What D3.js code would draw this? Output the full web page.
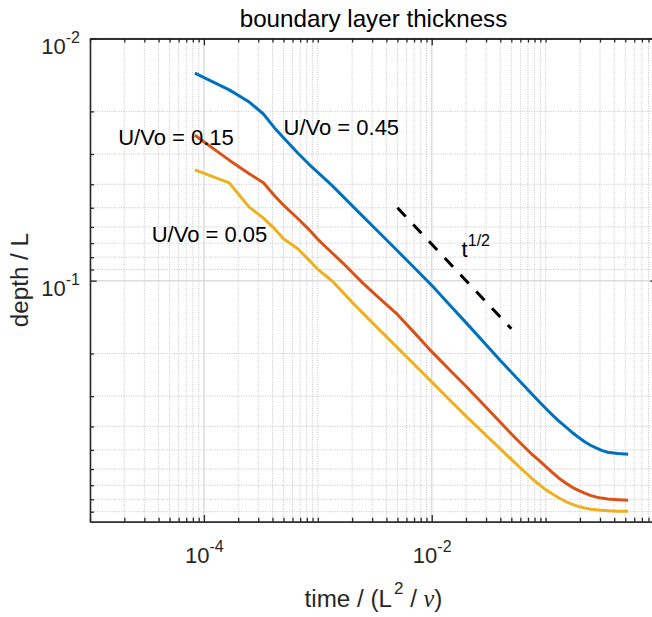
<!DOCTYPE html>
<html>
<head>
<meta charset="utf-8">
<script src="https://cdn.jsdelivr.net/npm/d3@7"></script>
<style>
  body { margin: 0; background: #fff; }
  svg { display: block; font-family: "Liberation Sans", Arial, Helvetica, sans-serif; }
  text { white-space: pre; }
</style>
</head>
<body>
<div id="chart"></div>
<script>
// time / (L^2/nu), shared by the three runs
var times = [8.33e-5, 1.67e-4, 2.5e-4, 3.33e-4, 4.17e-4, 5e-4, 6.67e-4, 8.33e-4, 1e-3, 1.33e-3,
  1.67e-3, 2e-3, 2.5e-3, 3.33e-3, 5e-3, 7e-3, 1e-2, 1.5e-2, 2e-2, 3e-2,
  4e-2, 5.5e-2, 7.5e-2, 0.085, 0.1, 0.115, 0.13, 0.15, 0.17, 0.19,
  0.22, 0.25, 0.28, 0.31, 0.35, 0.43, 0.53];

// depth / L
var depth045 = [0.0139, 0.0163, 0.0183, 0.0205, 0.0234, 0.0257, 0.0297, 0.0330, 0.0357, 0.0404,
  0.0450, 0.0490, 0.0544, 0.0622, 0.0753, 0.0883, 0.1046, 0.1287, 0.1491, 0.1840,
  0.2137, 0.2506, 0.2925, 0.3113, 0.3367, 0.3592, 0.3796, 0.4022, 0.4227, 0.4404,
  0.4627, 0.4797, 0.4922, 0.5022, 0.5113, 0.518, 0.5212];
var depth015 = [0.0251, 0.0318, 0.0362, 0.0394, 0.0446, 0.0488, 0.0554, 0.0614, 0.0675, 0.0767,
  0.0848, 0.0924, 0.1026, 0.1162, 0.1379, 0.1636, 0.1965, 0.2384, 0.2729, 0.3334,
  0.3844, 0.4499, 0.519, 0.5464, 0.5853, 0.6203, 0.6529, 0.6846, 0.7125, 0.7311,
  0.7551, 0.7727, 0.7838, 0.791, 0.7975, 0.803, 0.807];
var depth005 = [0.0349, 0.0395, 0.0497, 0.0552, 0.0610, 0.0671, 0.0738, 0.0821, 0.0898, 0.1001,
  0.1121, 0.1229, 0.1365, 0.1563, 0.189, 0.2216, 0.2619, 0.3171, 0.3629, 0.4353,
  0.4951, 0.571, 0.6535, 0.6867, 0.7298, 0.7609, 0.7882, 0.8172, 0.8375, 0.854,
  0.8686, 0.8787, 0.8846, 0.8889, 0.8914, 0.8954, 0.8963];

// reference slope t^(1/2)
var refTimes = [0.005, 0.05];
var refDepths = [0.05, 0.158];

// annotations, anchored in data coordinates
var labelTexts = ['U/Vo = 0.45', 'U/Vo = 0.15', 'U/Vo = 0.05'];
var labelTimes = [5e-4, 1.77e-5, 3.48e-5];
var labelDepths = [0.025, 0.0275, 0.0691];

var xMajor = [1e-4, 1e-2];
var yMajor = [0.01, 0.1];

var colors = ['#0072BD', '#D95319', '#EDB120'];
var series = [depth045, depth015, depth005];

var W = 652, H = 617;
var svg = d3.select('#chart').append('svg')
    .attr('width', W)
    .attr('height', H);

var x = d3.scaleLog().domain([1e-5, 0.95]).range([90, 657]);
var y = d3.scaleLog().domain([0.01, 0.99]).range([38.5, 521.7]);

var x0 = x.range()[0], x1 = x.range()[1];
var y0 = y.range()[0], y1 = y.range()[1];

function isIn(v, list) {
  return list.some(function(m) { return Math.abs(Math.log10(v / m)) < 1e-6; });
}

var xMinor = x.ticks().filter(function(v) { return !isIn(v, xMajor); });
var yMinor = y.ticks().filter(function(v) { return !isIn(v, yMajor); });

// grid
var grid = svg.append('g');

grid.selectAll('line.xminor')
  .data(xMinor)
  .enter().append('line')
  .attr('x1', x).attr('x2', x)
  .attr('y1', y0).attr('y2', y1)
  .attr('stroke', '#c4c4c4')
  .attr('stroke-width', 1)
  .attr('stroke-dasharray', '1,1.4');

grid.selectAll('line.yminor')
  .data(yMinor)
  .enter().append('line')
  .attr('y1', y).attr('y2', y)
  .attr('x1', x0).attr('x2', x1)
  .attr('stroke', '#c4c4c4')
  .attr('stroke-width', 1)
  .attr('stroke-dasharray', '1,1.4');

grid.selectAll('line.xmajor')
  .data(xMajor)
  .enter().append('line')
  .attr('x1', x).attr('x2', x)
  .attr('y1', y0).attr('y2', y1)
  .attr('stroke', '#dcdcdc')
  .attr('stroke-width', 1.5);

grid.selectAll('line.ymajor')
  .data(yMajor)
  .enter().append('line')
  .attr('y1', y).attr('y2', y)
  .attr('x1', x0).attr('x2', x1)
  .attr('stroke', '#dcdcdc')
  .attr('stroke-width', 1.5);

// curves
var line = d3.line()
  .x(function(d, i) { return x(times[i]); })
  .y(function(d) { return y(d); });

svg.selectAll('path.run')
  .data(series)
  .enter().append('path')
  .attr('class', 'run')
  .attr('d', line)
  .attr('fill', 'none')
  .attr('stroke', function(d, i) { return colors[i]; })
  .attr('stroke-width', 3)
  .attr('stroke-linejoin', 'round');

var refLine = d3.line()
  .x(function(d, i) { return x(refTimes[i]); })
  .y(function(d) { return y(d); });

svg.append('path')
  .attr('d', refLine(refDepths))
  .attr('fill', 'none')
  .attr('stroke', '#000')
  .attr('stroke-width', 3)
  .attr('stroke-dasharray', '12,11');

// annotations
svg.selectAll('text.runlabel')
  .data(labelTexts)
  .enter().append('text')
  .attr('class', 'runlabel')
  .attr('x', function(d, i) { return x(labelTimes[i]); })
  .attr('y', function(d, i) { return y(labelDepths[i]); })
  .attr('font-size', 22)
  .attr('fill', '#000')
  .text(function(d) { return d; });

var tHalf = svg.append('text')
  .attr('x', x(0.0183))
  .attr('y', y(0.0797))
  .attr('font-size', 22)
  .attr('fill', '#000');
tHalf.append('tspan').text('t');
tHalf.append('tspan').attr('dy', -11).attr('font-size', 16).text('1/2');

// axes
function styleAxis(g) {
  g.attr('font-family', null).attr('font-size', 22);
  g.select('.domain').attr('stroke', '#262626').attr('stroke-width', 1.3);
  g.selectAll('.tick line').attr('stroke', '#262626').attr('stroke-width', 1.3);
}

function powLabels(g, xOff, yOff, anchor) {
  g.selectAll('.tick text').each(function(d) {
    var t = d3.select(this);
    var e = Math.round(Math.log10(d));
    t.text(null)
      .attr('x', xOff).attr('y', yOff).attr('dy', null)
      .attr('text-anchor', anchor)
      .attr('fill', '#262626');
    t.append('tspan').text('10');
    t.append('tspan').attr('dy', -11).attr('font-size', 16).text(e);
  });
}

svg.append('g')
  .attr('transform', 'translate(0,' + y1 + ')')
  .call(d3.axisBottom(x).tickValues(xMinor).tickSizeInner(-4).tickSizeOuter(0).tickFormat(''))
  .call(styleAxis);
svg.append('g')
  .attr('transform', 'translate(0,' + y1 + ')')
  .call(d3.axisBottom(x).tickValues(xMajor).tickSizeInner(-6.7).tickSizeOuter(0))
  .call(styleAxis)
  .call(powLabels, 0, 41, 'middle');

svg.append('g')
  .attr('transform', 'translate(0,' + y0 + ')')
  .call(d3.axisTop(x).tickValues(xMinor).tickSizeInner(-4).tickSizeOuter(0).tickFormat(''))
  .call(styleAxis);
svg.append('g')
  .attr('transform', 'translate(0,' + y0 + ')')
  .call(d3.axisTop(x).tickValues(xMajor).tickSizeInner(-6.7).tickSizeOuter(0).tickFormat(''))
  .call(styleAxis);

svg.append('g')
  .attr('transform', 'translate(' + x0 + ',0)')
  .call(d3.axisLeft(y).tickValues(yMinor).tickSizeInner(-4).tickSizeOuter(0).tickFormat(''))
  .call(styleAxis);
svg.append('g')
  .attr('transform', 'translate(' + x0 + ',0)')
  .call(d3.axisLeft(y).tickValues(yMajor).tickSizeInner(-6.7).tickSizeOuter(0))
  .call(styleAxis)
  .call(powLabels, -10, 14.5, 'end');

svg.append('g')
  .attr('transform', 'translate(' + x1 + ',0)')
  .call(d3.axisRight(y).tickValues(yMajor).tickSizeInner(-6.7).tickSizeOuter(0).tickFormat(''))
  .call(styleAxis);

// title and axis labels
svg.append('text')
  .attr('x', (x0 + x1) / 2)
  .attr('y', 27.3)
  .attr('text-anchor', 'middle')
  .attr('font-size', 24.2)
  .attr('fill', '#000')
  .text('boundary layer thickness');

var xl = svg.append('text')
  .attr('x', (x0 + x1) / 2)
  .attr('y', 606.7)
  .attr('text-anchor', 'middle')
  .attr('font-size', 24.2)
  .attr('fill', '#262626');
xl.append('tspan').text('time / (L');
xl.append('tspan').attr('dy', -13).attr('dx', 2).attr('font-size', 17).text('2');
xl.append('tspan').attr('dy', 13).text(' / ');
xl.append('tspan').attr('font-family', '"Liberation Serif", "DejaVu Serif", serif')
  .attr('font-style', 'italic').text('\u03bd');
xl.append('tspan').text(')');

svg.append('text')
  .attr('transform', 'translate(28.3,' + ((y0 + y1) / 2) + ') rotate(-90)')
  .attr('text-anchor', 'middle')
  .attr('font-size', 24.2)
  .attr('fill', '#262626')
  .text('depth / L');
</script>
</body>
</html>
